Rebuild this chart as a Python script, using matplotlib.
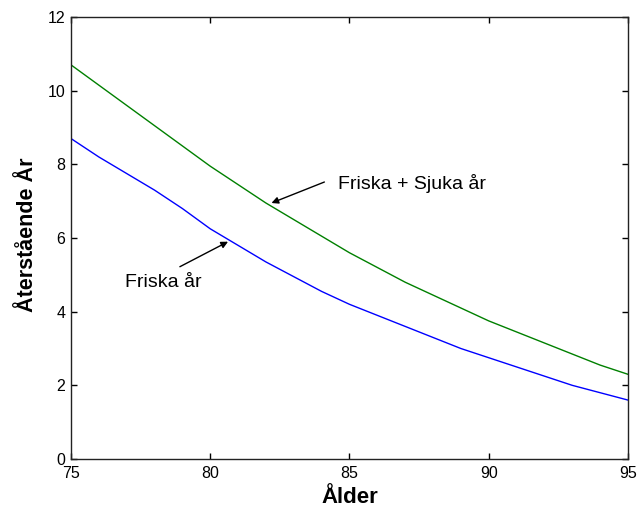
import matplotlib.pyplot as plt

plt.rcParams['font.family'] = ['Liberation Sans', 'DejaVu Sans']

# Ålder (år)
alder = list(range(75, 96))

# Återstående år, friska + sjuka
friska_sjuka = [
    10.7, 10.15, 9.6, 9.05, 8.5, 7.95, 7.45, 6.95, 6.5, 6.05,
    5.6, 5.2, 4.8, 4.45, 4.1, 3.75, 3.45, 3.15, 2.85, 2.55, 2.3
]

# Återstående år, friska
friska = [
    8.7, 8.2, 7.75, 7.3, 6.8, 6.25, 5.8, 5.35, 4.95, 4.55,
    4.2, 3.9, 3.6, 3.3, 3.0, 2.75, 2.5, 2.25, 2.0, 1.8, 1.6
]

fig = plt.figure(figsize=(6.42, 5.11), dpi=100)
ax = fig.add_axes([0.1106, 0.1018, 0.8674, 0.8649])

ax.plot(alder, friska_sjuka, color=(0, 0.5, 0), lw=1.0)
ax.plot(alder, friska, color=(0, 0, 1), lw=1.0)

ax.set_xlim(75, 95)
ax.set_ylim(0, 12)
ax.set_xticks([75, 80, 85, 90, 95])
ax.set_yticks([0, 2, 4, 6, 8, 10, 12])
ax.tick_params(direction='in', length=4, width=1, labelsize=11.5,
               top=True, right=True)
ax.tick_params(axis='x', pad=5)
ax.tick_params(axis='y', pad=4)
for s in ax.spines.values():
    s.set_linewidth(1.0)
    s.set_color('#222222')

ax.set_xlabel('Ålder', fontsize=16, fontweight='bold')
ax.set_ylabel('Återstående År', fontsize=15.5, fontweight='bold')
ax.xaxis.set_label_coords(0.5, -0.063)
ax.yaxis.set_label_coords(-0.06, 0.507)

# Pilar med text
ax.annotate('', xy=(82.2, 6.95), xytext=(84.1, 7.52),
            arrowprops=dict(arrowstyle='-|>', color='black', lw=1.0,
                            mutation_scale=10, shrinkA=0, shrinkB=0))
ax.text(84.59, 7.47, 'Friska + Sjuka år', fontsize=14, va='center', ha='left')

ax.annotate('', xy=(80.64, 5.9), xytext=(78.91, 5.22),
            arrowprops=dict(arrowstyle='-|>', color='black', lw=1.0,
                            mutation_scale=10, shrinkA=0, shrinkB=0))
ax.text(76.94, 4.78, 'Friska år', fontsize=14, va='center', ha='left')

fig.savefig('out.png', dpi=100)
